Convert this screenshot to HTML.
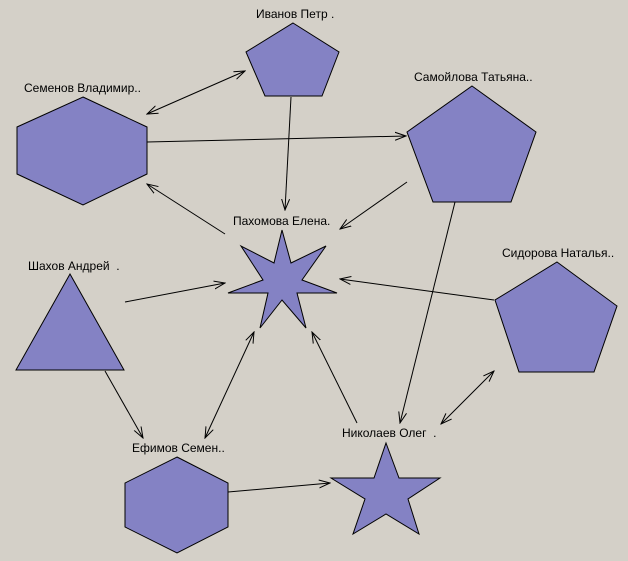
<!DOCTYPE html>
<html><head><meta charset="utf-8"><style>
html,body{margin:0;padding:0;background:#d4d0c8;}
svg{display:block;}
text{font-family:"Liberation Sans",sans-serif;font-size:12px;fill:#000;white-space:pre;}
</style></head><body>
<svg width="628" height="561" viewBox="0 0 628 561" xmlns="http://www.w3.org/2000/svg">
<defs>
<marker id="a" markerWidth="12" markerHeight="10" refX="11" refY="5" orient="auto" markerUnits="userSpaceOnUse">
<path d="M0,1 L11,5 L0,9" fill="none" stroke="#000" stroke-width="1"/>
</marker>
<marker id="s" markerWidth="12" markerHeight="10" refX="1" refY="5" orient="auto" markerUnits="userSpaceOnUse">
<path d="M12,1 L1,5 L12,9" fill="none" stroke="#000" stroke-width="1"/>
</marker>
</defs>
<g fill="#8482c4" stroke="#000" stroke-width="1">
<polygon points="293,23 339,52 322,96 265,96 246,52"/>
<polygon points="83,97 147,127 147,174 83,205 17,174 17,127"/>
<polygon points="472,86 536,132 511,202 433,202 407,132"/>
<polygon points="282,230 291,263 326,246 302,280 337,293 297,293 306,328 282,300 260,328 268,293 228,293 263,280 241,246 274,263"/>
<polygon points="70,274 124,370 16,370"/>
<polygon points="557,262 617,306 594,372 519,372 495,300"/>
<polygon points="177,457 228,483 228,527 177,553 125,527 125,483"/>
<polygon points="386,443 399,478 440,478 408,499 419,534 386,514 353,534 365,499 331,478 374,478"/>
</g>
<g stroke="#000" stroke-width="1" fill="none">
<line x1="147" y1="114" x2="245" y2="71" marker-start="url(#s)" marker-end="url(#a)"/>
<line x1="147" y1="142" x2="406" y2="136" marker-end="url(#a)"/>
<line x1="291" y1="97" x2="285" y2="210" marker-end="url(#a)"/>
<line x1="407" y1="182" x2="340" y2="229" marker-end="url(#a)"/>
<line x1="225" y1="234" x2="147" y2="184" marker-end="url(#a)"/>
<line x1="455" y1="202" x2="400" y2="423" marker-end="url(#a)"/>
<line x1="125" y1="302" x2="225" y2="283" marker-end="url(#a)"/>
<line x1="494" y1="300" x2="340" y2="279" marker-end="url(#a)"/>
<line x1="105" y1="371" x2="143" y2="438" marker-end="url(#a)"/>
<line x1="205" y1="438" x2="254" y2="332" marker-start="url(#s)" marker-end="url(#a)"/>
<line x1="357" y1="423" x2="312" y2="332" marker-end="url(#a)"/>
<line x1="441" y1="424" x2="494" y2="371" marker-start="url(#s)" marker-end="url(#a)"/>
<line x1="228" y1="492" x2="330" y2="483" marker-end="url(#a)"/>
</g>
<text x="256" y="18">Иванов Петр .</text>
<text x="24" y="92">Семенов Владимир..</text>
<text x="414" y="81">Самойлова Татьяна..</text>
<text x="233" y="225">Пахомова Елена.</text>
<text x="28" y="270">Шахов Андрей  .</text>
<text x="502" y="257">Сидорова Наталья..</text>
<text x="132" y="452">Ефимов Семен..</text>
<text x="342" y="437">Николаев Олег  .</text>
</svg>
</body></html>
